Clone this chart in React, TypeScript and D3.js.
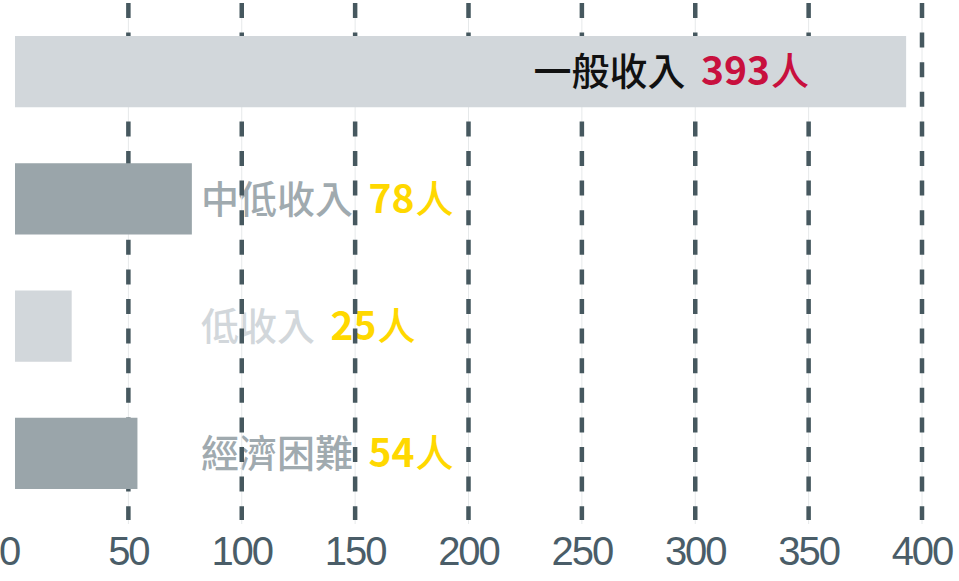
import React, { useEffect, useRef } from "react";
import * as d3 from "d3";

// data
const categories = ["一般收入", "中低收入", "低收入", "經濟困難"];
const counts = [393, 78, 25, 54];
const unit = "人";
const xTicks = [0, 50, 100, 150, 200, 250, 300, 350, 400];

const barColors = ["#d2d7db", "#9aa5aa", "#d2d7db", "#9aa5aa"];
const nameColors = ["#111111", "#a0aaaf", "#d2d7db", "#a0aaaf"];
const countColors = ["#c8103e", "#ffd800", "#ffd800", "#ffd800"];

const W = 959;
const H = 581;

const App = () => {
  const ref = useRef<SVGSVGElement>(null);

  useEffect(() => {
    const svg = d3.select(ref.current);
    svg.selectAll("*").remove();

    const x = d3.scaleLinear().domain([0, 400]).range([15, 922]);
    const y = d3
      .scaleBand()
      .domain(categories)
      .range([36, 489])
      .paddingInner(0.44)
      .paddingOuter(0);

    const rows = categories.map((c, i) => ({
      name: c,
      value: counts[i],
      bar: barColors[i],
      nameColor: nameColors[i],
      countColor: countColors[i],
      inside: i === 0,
    }));

    const fontCJK = "'Noto Sans CJK TC', 'Noto Sans CJK SC', sans-serif";

    function addLabel(g: any, d: any, xPos: number, anchor: string) {
      const t = g
        .append("text")
        .attr("x", xPos)
        .attr("y", (y(d.name) as number) + y.bandwidth() / 2)
        .attr("dy", "0.36em")
        .attr("text-anchor", anchor)
        .style("font-family", fontCJK)
        .style("font-size", "38px")
        .style("font-weight", 500);
      t.append("tspan").attr("fill", d.nameColor).text(d.name + " ");
      t.append("tspan")
        .attr("dx", 7)
        .attr("fill", d.countColor)
        .style("font-weight", 700)
        .style("font-size", "39px")
        .text(String(d.value));
      t.append("tspan").attr("fill", d.countColor).attr("dx", 1).text(unit);
    }

    // labels beside the short bars (gridlines run over them)
    const outside = svg.append("g");
    rows
      .filter((d) => !d.inside)
      .forEach((d) => addLabel(outside, d, 201, "start"));

    // gridlines
    const grid = svg.append("g");
    const gTicks = xTicks.filter((v) => v > 0);
    grid
      .selectAll(".faint")
      .data(gTicks)
      .join("line")
      .attr("x1", (d) => x(d))
      .attr("x2", (d) => x(d))
      .attr("y1", 3)
      .attr("y2", 524)
      .attr("stroke", "#e6e9ea")
      .attr("stroke-width", 1);
    grid
      .selectAll(".dash")
      .data(gTicks)
      .join("line")
      .attr("x1", (d) => x(d))
      .attr("x2", (d) => x(d))
      .attr("y1", 3)
      .attr("y2", 520)
      .attr("stroke", "#46585f")
      .attr("stroke-width", 4.5)
      .attr("stroke-dasharray", "15,14.6");

    // bars
    svg
      .append("g")
      .selectAll("rect")
      .data(rows)
      .join("rect")
      .attr("x", x(0))
      .attr("y", (d) => y(d.name) as number)
      .attr("width", (d) => x(d.value) - x(0))
      .attr("height", y.bandwidth())
      .attr("fill", (d) => d.bar);

    // label inside the long bar
    const inside = svg.append("g");
    rows
      .filter((d) => d.inside)
      .forEach((d) => addLabel(inside, d, x(d.value) - 97, "end"));

    // tick labels
    svg
      .append("g")
      .selectAll("text")
      .data(xTicks)
      .join("text")
      .attr("x", (d, i) => (i === 0 ? -1 : x(d)))
      .attr("y", 565)
      .attr("text-anchor", (d, i) => (i === 0 ? "start" : "middle"))
      .attr("fill", "#4a5d68")
      .style("font-family", "'Liberation Sans', Arial, sans-serif")
      .style("font-size", "40px")
      .style("letter-spacing", "-2px")
      .text((d) => String(d));
  }, []);

  return (
    <svg
      ref={ref}
      width={W}
      height={H}
      viewBox={`0 0 ${W} ${H}`}
      style={{ position: "absolute", left: 0, top: 0, background: "#ffffff" }}
    ></svg>
  );
};

export default App;
